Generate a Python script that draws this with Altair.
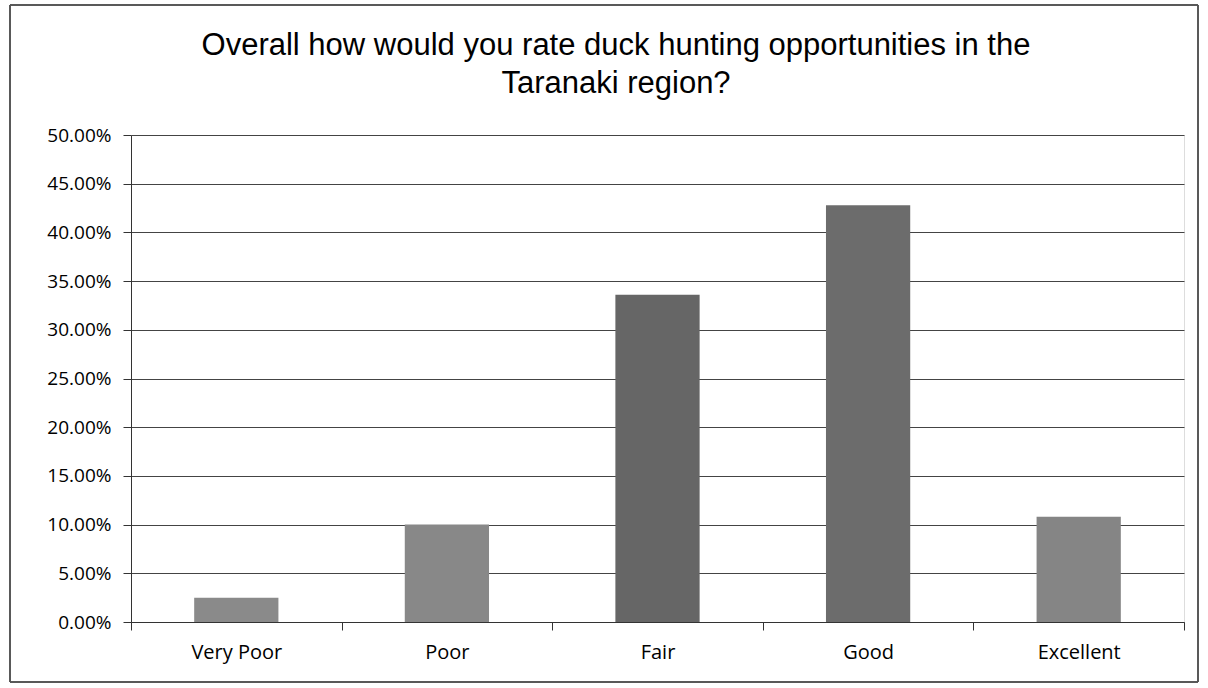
import altair as alt
import pandas as pd

categories = ["Very Poor", "Poor", "Fair", "Good", "Excellent"]
values = [0.025, 0.100, 0.336, 0.428, 0.108]
bar_colors = ["#8a8a8a", "#888888", "#666666", "#6c6c6c", "#858585"]
title_lines = ["Overall how would you rate duck hunting opportunities in the", "Taranaki region?"]

df = pd.DataFrame({"cat": categories, "val": values})
tdf = pd.DataFrame({"t": title_lines, "i": [0, 1]})

bars = alt.Chart(df).mark_bar(width={"band": 0.40}).encode(
    x=alt.X("cat:N", sort=categories, title=None,
            scale=alt.Scale(paddingInner=0, paddingOuter=0),
            axis=alt.Axis(labelAngle=0, labelFontSize=20, labelFont="Open Sans",
                          labelColor="#000", labelPadding=12, tickBand="extent",
                          tickSize=8, tickColor="#333", domainColor="#333",
                          grid=False)),
    y=alt.Y("val:Q", title=None,
            scale=alt.Scale(domain=[0, 0.5]),
            axis=alt.Axis(format=".2%", values=[i * 0.05 for i in range(11)],
                          labelFontSize=19, labelFont="Open Sans", labelColor="#000",
                          labelPadding=12, tickSize=8, tickColor="#333",
                          domainColor="#333", gridColor="#444", gridWidth=1)),
    color=alt.Color("cat:N", scale=alt.Scale(domain=categories, range=bar_colors), legend=None),
)

frame = alt.Chart(df).mark_rect(fill=None, stroke="#555", strokeWidth=1).encode(
    x=alt.value(-121), x2=alt.value(1067), y=alt.value(-130), y2=alt.value(547)
)

title = alt.Chart(tdf).mark_text(
    font="Liberation Sans", fontSize=31, color="#000", align="center", baseline="alphabetic"
).encode(
    text="t:N",
    x=alt.value(485),
    y=alt.Y("i:Q", axis=None, scale=alt.Scale(domain=[0, 1], range=[-80, -42])),
)

chart = alt.layer(frame, bars, title).resolve_scale(y="independent").properties(
    width=1053, height=487,
    autosize=alt.AutoSizeParams(type="none"),
    padding={"left": 131, "top": 135, "right": 24, "bottom": 66},
).configure_view(stroke=None).configure(background="white")

chart.save("out.html", embed_options={"renderer": "svg", "actions": False})
